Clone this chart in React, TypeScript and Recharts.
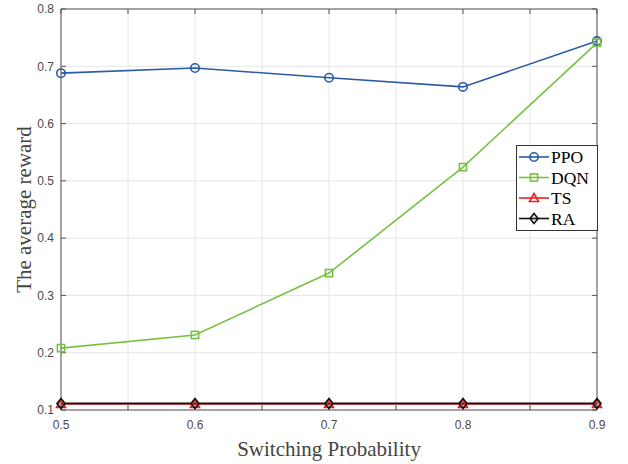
import React from 'react';
import { LineChart, Line, XAxis, YAxis, CartesianGrid } from 'recharts';

const switchingProb = [0.5, 0.6, 0.7, 0.8, 0.9];
const ppoValues = [0.688, 0.697, 0.68, 0.664, 0.744];
const dqnValues = [0.208, 0.231, 0.339, 0.524, 0.741];
const tsValues = [0.1105, 0.1105, 0.1105, 0.1105, 0.1105];
const raValues = [0.1115, 0.1115, 0.1115, 0.1115, 0.1115];
const xTicks = [0.5, 0.55, 0.6, 0.65, 0.7, 0.75, 0.8, 0.85, 0.9];
const yTicks = [0.1, 0.2, 0.3, 0.4, 0.5, 0.6, 0.7, 0.8];

const data = switchingProb.map((x, i) => ({
  x,
  ppo: ppoValues[i],
  dqn: dqnValues[i],
  ts: tsValues[i],
  ra: raValues[i],
}));

const BLUE = '#2b5aa8';
const GREEN = '#78c043';
const RED = '#ee2020';
const BLACK = '#111111';

const Circle = (props: any) => {
  const { cx, cy, stroke } = props;
  if (cx == null || cy == null) return null;
  return <circle cx={cx} cy={cy} r={4.2} fill="none" stroke={stroke} strokeWidth={1.6} />;
};
const Square = (props: any) => {
  const { cx, cy, stroke } = props;
  if (cx == null || cy == null) return null;
  return <rect x={cx - 3.6} y={cy - 3.6} width={7.2} height={7.2} fill="none" stroke={stroke} strokeWidth={1.6} />;
};
const Triangle = (props: any) => {
  const { cx, cy, stroke } = props;
  if (cx == null || cy == null) return null;
  return (
    <path d={`M${cx},${cy - 4.5} L${cx + 4.5},${cy + 3.5} L${cx - 4.5},${cy + 3.5} Z`} fill="none" stroke={stroke} strokeWidth={1.6} />
  );
};
const Diamond = (props: any) => {
  const { cx, cy, stroke } = props;
  if (cx == null || cy == null) return null;
  return (
    <path d={`M${cx},${cy - 5} L${cx + 4},${cy} L${cx},${cy + 5} L${cx - 4},${cy} Z`} fill="none" stroke={stroke} strokeWidth={1.6} />
  );
};

const legendItems = [
  { name: 'PPO', color: BLUE, Shape: Circle },
  { name: 'DQN', color: GREEN, Shape: Square },
  { name: 'TS', color: RED, Shape: Triangle },
  { name: 'RA', color: BLACK, Shape: Diamond },
];

const LegendBox = () => (
  <svg width={82} height={86} style={{ display: 'block' }}>
    <rect x={0.5} y={0.5} width={81} height={85} fill="#fff" stroke="#333" strokeWidth={1} />
    {legendItems.map((it, i) => {
      const y = 12 + i * 20.5;
      const S = it.Shape;
      return (
        <g key={it.name}>
          <line x1={3} x2={33} y1={y} y2={y} stroke={it.color} strokeWidth={1.6} />
          <S cx={18} cy={y} stroke={it.color} />
          <text x={35} y={y + 6} fontFamily="Liberation Serif, Times New Roman, serif" fontSize={17.5} fill="#000">
            {it.name}
          </text>
        </g>
      );
    })}
  </svg>
);

const tickStyle = { fontFamily: 'Liberation Sans, Arial, sans-serif', fontSize: 12, fill: '#4a4a4a' };

export default function App() {
  return (
    <div style={{ position: 'absolute', left: 0, top: 0, width: 628, height: 464, background: '#fff' }}>
      <LineChart width={628} height={464} data={data} margin={{ top: 8, right: 30, bottom: 24, left: 21 }}>
        <CartesianGrid stroke="#e6e6e6" strokeWidth={1} horizontal vertical />
        <XAxis
          dataKey="x"
          type="number"
          domain={[0.5, 0.9]}
          ticks={xTicks}
          interval={0}
          height={30}
          tickFormatter={(v: number) => (Math.round(v * 100) % 10 === 0 ? String(v) : '')}
          tick={tickStyle}
          stroke="#555"
          tickSize={-5}
          tickMargin={15}
          label={{
            value: 'Switching Probability',
            position: 'insideBottom',
            offset: -16,
            style: { fontFamily: 'Liberation Serif, Times New Roman, serif', fontSize: 21, fill: '#444' },
          }}
        />
        <XAxis
          xAxisId="top"
          dataKey="x"
          orientation="top"
          type="number"
          domain={[0.5, 0.9]}
          allowDataOverflow
          ticks={xTicks}
          interval={0}
          height={1}
          tickFormatter={() => ''}
          stroke="#555"
          tickSize={-5}
        />
        <YAxis
          type="number"
          domain={[0.1, 0.8]}
          ticks={yTicks}
          interval={0}
          width={40}
          tick={tickStyle}
          stroke="#555"
          tickSize={-5}
          tickMargin={12}
          tickFormatter={(v: number) => String(Math.round(v * 10) / 10)}
          label={{
            value: 'The average reward',
            angle: -90,
            position: 'insideLeft',
            offset: 3,
            style: { textAnchor: 'middle', fontFamily: 'Liberation Serif, Times New Roman, serif', fontSize: 21, fill: '#444' },
          }}
        />
        <YAxis
          yAxisId="right"
          dataKey="ppo"
          orientation="right"
          type="number"
          domain={[0.1, 0.8]}
          allowDataOverflow
          ticks={yTicks}
          interval={0}
          width={1}
          tickFormatter={() => ''}
          stroke="#555"
          tickSize={-5}
        />
        <Line type="linear" dataKey="ppo" name="PPO" stroke={BLUE} strokeWidth={1.6} dot={<Circle />} isAnimationActive={false} />
        <Line type="linear" dataKey="dqn" name="DQN" stroke={GREEN} strokeWidth={1.6} dot={<Square />} isAnimationActive={false} />
        <Line type="linear" dataKey="ts" name="TS" stroke={RED} strokeWidth={1.6} dot={<Triangle />} isAnimationActive={false} />
        <Line type="linear" dataKey="ra" name="RA" stroke={BLACK} strokeWidth={1.6} dot={<Diamond />} isAnimationActive={false} />
      </LineChart>
      <div style={{ position: 'absolute', left: 516, top: 145 }}>
        <LegendBox />
      </div>
    </div>
  );
}
